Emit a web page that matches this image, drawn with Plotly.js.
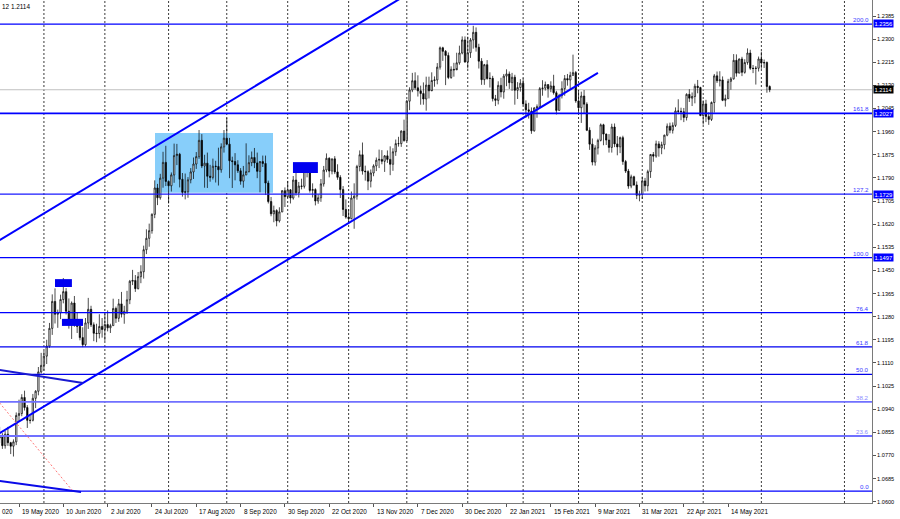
<!DOCTYPE html>
<html><head><meta charset="utf-8">
<script src="https://cdn.plot.ly/plotly-3.0.1.min.js"></script>
<style>html,body{margin:0;padding:0;background:#fff;}#chart{width:900px;height:519px;}</style>
</head><body><div id="chart"></div>
<script>
// ---------- DATA (EURUSD daily) ----------
const firstOpen = 1.0834;
const closeMay20 = [1.0839,1.0806,1.0848,1.0817,1.0804,1.0820,1.0917,1.0924,1.0983,1.0946,1.0899,1.0899,1.0980,1.1006,1.1077,1.1101];
const highMay20  = [1.0875,1.0852,1.0860,1.0875,1.0820,1.0829,1.0928,1.0975,1.0995,1.1008,1.0955,1.0916,1.0996,1.1010,1.1095,1.1147];
const lowMay20   = [1.0815,1.0794,1.0795,1.0805,1.0775,1.0766,1.0808,1.0896,1.0914,1.0935,1.0871,1.0887,1.0895,1.0944,1.0991,1.1071];
const closeJun20 = [1.1135,1.1172,1.1237,1.1336,1.1289,1.1294,1.1343,1.1372,1.1300,1.1255,1.1330,1.1263,1.1244,1.1203,1.1177,1.1257,1.1307,1.1250,1.1219,1.1218,1.1244,1.1233];
const highJun20  = [1.1154,1.1195,1.1257,1.1362,1.1384,1.1306,1.1361,1.1422,1.1385,1.1347,1.1336,1.1356,1.1296,1.1259,1.1241,1.1275,1.1349,1.1320,1.1259,1.1254,1.1289,1.1275];
const lowJun20   = [1.1082,1.1106,1.1165,1.1213,1.1255,1.1239,1.1271,1.1329,1.1288,1.1236,1.1198,1.1243,1.1220,1.1193,1.1168,1.1171,1.1235,1.1242,1.1190,1.1186,1.1200,1.1203];
const closeJul20 = [1.1251,1.1239,1.1247,1.1310,1.1274,1.1327,1.1289,1.1300,1.1342,1.1410,1.1413,1.1383,1.1427,1.1445,1.1526,1.1568,1.1596,1.1656,1.1753,1.1717,1.1789,1.1847,1.1777];
const highJul20  = [1.1292,1.1303,1.1254,1.1346,1.1317,1.1345,1.1371,1.1320,1.1375,1.1415,1.1452,1.1433,1.1444,1.1469,1.1541,1.1601,1.1622,1.1660,1.1781,1.1768,1.1805,1.1886,1.1908];
const lowJul20   = [1.1191,1.1226,1.1220,1.1246,1.1257,1.1261,1.1277,1.1254,1.1290,1.1326,1.1396,1.1371,1.1380,1.1403,1.1420,1.1510,1.1537,1.1585,1.1642,1.1690,1.1710,1.1754,1.1760];
const closeAug20 = [1.1761,1.1801,1.1872,1.1877,1.1785,1.1737,1.1739,1.1783,1.1812,1.1841,1.1868,1.1928,1.1834,1.1844,1.1796,1.1792,1.1833,1.1832,1.1820,1.1904,1.1936];
const highAug20  = [1.1781,1.1810,1.1916,1.1915,1.1882,1.1808,1.1806,1.1793,1.1826,1.1865,1.1885,1.1966,1.1951,1.1875,1.1883,1.1838,1.1861,1.1853,1.1901,1.1917,1.1966];
const lowAug20   = [1.1696,1.1740,1.1772,1.1837,1.1755,1.1721,1.1711,1.1717,1.1770,1.1786,1.1823,1.1860,1.1826,1.1754,1.1753,1.1776,1.1784,1.1773,1.1762,1.1809,1.1883];
const closeSep20 = [1.1914,1.1853,1.1850,1.1838,1.1816,1.1778,1.1801,1.1813,1.1846,1.1865,1.1845,1.1814,1.1850,1.1843,1.1771,1.1703,1.1658,1.1670,1.1632,1.1665,1.1743,1.1721];
const highSep20  = [1.2011,1.1937,1.1868,1.1881,1.1855,1.1826,1.1834,1.1917,1.1873,1.1887,1.1900,1.1883,1.1852,1.1872,1.1872,1.1780,1.1720,1.1688,1.1675,1.1682,1.1745,1.1755];
const lowSep20   = [1.1910,1.1789,1.1753,1.1781,1.1808,1.1765,1.1754,1.1800,1.1810,1.1833,1.1826,1.1789,1.1737,1.1830,1.1727,1.1696,1.1649,1.1627,1.1612,1.1626,1.1664,1.1683];
const closeOct20 = [1.1746,1.1716,1.1782,1.1735,1.1760,1.1759,1.1827,1.1814,1.1744,1.1747,1.1705,1.1717,1.1768,1.1819,1.1862,1.1815,1.1860,1.1812,1.1792,1.1747,1.1674,1.1646];
const highOct20  = [1.1779,1.1749,1.1797,1.1810,1.1775,1.1787,1.1832,1.1830,1.1823,1.1770,1.1752,1.1730,1.1786,1.1834,1.1880,1.1866,1.1861,1.1870,1.1840,1.1800,1.1760,1.1711];
const lowOct20   = [1.1716,1.1696,1.1710,1.1725,1.1718,1.1748,1.1751,1.1792,1.1736,1.1718,1.1689,1.1695,1.1702,1.1758,1.1811,1.1792,1.1803,1.1804,1.1783,1.1716,1.1650,1.1640];
const closeNov20 = [1.1640,1.1716,1.1723,1.1832,1.1875,1.1815,1.1813,1.1778,1.1808,1.1834,1.1855,1.1858,1.1851,1.1871,1.1858,1.1840,1.1886,1.1916,1.1916,1.1962,1.1927];
const highNov20  = [1.1675,1.1740,1.1770,1.1838,1.1891,1.1920,1.1835,1.1818,1.1821,1.1840,1.1865,1.1894,1.1892,1.1874,1.1891,1.1906,1.1899,1.1931,1.1941,1.1965,1.2004];
const lowNov20   = [1.1622,1.1638,1.1603,1.1710,1.1814,1.1802,1.1780,1.1745,1.1755,1.1796,1.1815,1.1826,1.1840,1.1812,1.1845,1.1800,1.1816,1.1871,1.1905,1.1904,1.1923];
const closeDec20 = [1.2072,1.2113,1.2147,1.2121,1.2110,1.2100,1.2080,1.2131,1.2110,1.2148,1.2150,1.2197,1.2268,1.2255,1.2240,1.2159,1.2189,1.2187,1.2213,1.2249,1.2297,1.2216];
const highDec20  = [1.2077,1.2123,1.2176,1.2178,1.2167,1.2129,1.2141,1.2162,1.2162,1.2178,1.2163,1.2212,1.2273,1.2272,1.2260,1.2251,1.2200,1.2213,1.2250,1.2276,1.2310,1.2310];
const lowDec20   = [1.1925,1.2039,1.2105,1.2114,1.2089,1.2059,1.2059,1.2037,1.2082,1.2114,1.2125,1.2134,1.2188,1.2220,1.2131,1.2153,1.2154,1.2162,1.2194,1.2206,1.2244,1.2213];
const closeJan21 = [1.2250,1.2297,1.2325,1.2270,1.2219,1.2151,1.2206,1.2155,1.2156,1.2081,1.2075,1.2130,1.2106,1.2164,1.2172,1.2140,1.2160,1.2112,1.2122,1.2138];
const highJan21  = [1.2309,1.2304,1.2349,1.2343,1.2283,1.2230,1.2209,1.2223,1.2178,1.2165,1.2095,1.2145,1.2158,1.2172,1.2189,1.2181,1.2176,1.2169,1.2142,1.2153];
const lowJan21   = [1.2192,1.2231,1.2265,1.2254,1.2192,1.2132,1.2132,1.2151,1.2122,1.2071,1.2054,1.2060,1.2086,1.2081,1.2127,1.2117,1.2110,1.2059,1.2080,1.2107];
const closeFeb21 = [1.2062,1.2040,1.2035,1.1963,1.2047,1.2051,1.2118,1.2120,1.2133,1.2118,1.2128,1.2103,1.2038,1.2092,1.2118,1.2155,1.2150,1.2167,1.2177,1.2073];
const highFeb21  = [1.2156,1.2075,1.2066,1.2049,1.2050,1.2060,1.2124,1.2149,1.2144,1.2133,1.2145,1.2169,1.2110,1.2099,1.2145,1.2168,1.2172,1.2180,1.2243,1.2183];
const lowFeb21   = [1.2057,1.2011,1.2008,1.1952,1.1960,1.2011,1.2048,1.2092,1.2111,1.2085,1.2105,1.2096,1.2023,1.2037,1.2082,1.2092,1.2129,1.2114,1.2165,1.2066];
const closeMar21 = [1.2048,1.2091,1.2061,1.1965,1.1914,1.1848,1.1900,1.1928,1.1985,1.1951,1.1929,1.1902,1.1977,1.1915,1.1904,1.1938,1.1850,1.1815,1.1760,1.1794,1.1764,1.1726,1.1729];
const highMar21  = [1.2113,1.2107,1.2113,1.2068,1.1976,1.1935,1.1910,1.1934,1.1990,1.1989,1.1953,1.1951,1.1989,1.1990,1.1944,1.1942,1.1945,1.1856,1.1823,1.1802,1.1798,1.1777,1.1743];
const lowMar21   = [1.2023,1.1992,1.2027,1.1962,1.1893,1.1836,1.1835,1.1876,1.1924,1.1910,1.1911,1.1883,1.1883,1.1903,1.1873,1.1881,1.1838,1.1808,1.1750,1.1752,1.1761,1.1712,1.1704];
const closeApr21 = [1.1779,1.1761,1.1813,1.1876,1.1870,1.1915,1.1900,1.1912,1.1947,1.1980,1.1965,1.1983,1.2036,1.2035,1.2033,1.2012,1.2097,1.2083,1.2089,1.2127,1.2122,1.2019];
const highApr21  = [1.1795,1.1790,1.1820,1.1878,1.1885,1.1927,1.1925,1.1923,1.1949,1.1990,1.1993,1.1994,1.2049,1.2079,1.2048,1.2047,1.2101,1.2116,1.2104,1.2136,1.2150,1.2125];
const lowApr21   = [1.1713,1.1740,1.1741,1.1790,1.1849,1.1864,1.1868,1.1877,1.1895,1.1943,1.1954,1.1953,1.1977,1.2024,1.2002,1.1995,1.2001,1.2069,1.2054,1.2064,1.2101,1.2017];
const closeMay21 = [1.2062,1.2016,1.2005,1.2067,1.2165,1.2147,1.2150,1.2075,1.2081,1.2145,1.2154,1.2222,1.2175,1.2227,1.2178,1.2214,1.2249,1.2193,1.2192,1.2193,1.2227];
const highMay21  = [1.2075,1.2077,1.2031,1.2071,1.2172,1.2181,1.2182,1.2163,1.2096,1.2154,1.2161,1.2245,1.2244,1.2229,1.2235,1.2226,1.2266,1.2261,1.2205,1.2201,1.2236];
const lowMay21   = [1.1986,1.1995,1.1985,1.1999,1.2030,1.2139,1.2126,1.2072,1.2052,1.2080,1.2114,1.2151,1.2162,1.2176,1.2164,1.2173,1.2206,1.2187,1.2175,1.2133,1.2181];
const closeJun21 = [1.2212,1.2214,1.2126,1.2114];
const highJun21  = [1.2254,1.2225,1.2218,1.2130];
const lowJun21   = [1.2191,1.2194,1.2103,1.2105];

// x-axis labels (bar index of each labelled day) and month separators
const tickIdx  = [7,23,39,55,71,87,103,119,135,151,167,183,199,215,231,247,263];
const tickText = ['19 May 2020','10 Jun 2020','2 Jul 2020','24 Jul 2020','17 Aug 2020','8 Sep 2020','30 Sep 2020','22 Oct 2020','13 Nov 2020','7 Dec 2020','30 Dec 2020','22 Jan 2021','15 Feb 2021','9 Mar 2021','31 Mar 2021','22 Apr 2021','14 May 2021'];
const leftEdgeLabel = '020';   // visible tail of the label cut by the left edge
const monthStartIdx = [16,38,61,82,104,126,147,169,189,209,232,254,275,305];
const yTicks = [1.2385,1.2300,1.2215,1.2130,1.2045,1.1960,1.1875,1.1790,1.1705,1.1620,1.1535,1.1450,1.1365,1.1280,1.1195,1.1110,1.1025,1.0940,1.0855,1.0770,1.0685,1.0600];

// Fibonacci object
const fibLow = 1.0639, fibHigh = 1.1497;
const fibLevels = [0,23.6,38.2,50,61.8,76.4,100,127.2,161.8,200];
const fibText   = ['0.0','23.6','38.2','50.0','61.8','76.4','100.0','127.2','161.8','200.0'];
const priceTags = [1.2356,1.2027,1.1729,1.1497];
const bidPrice = 1.2114;
const headerText = '12 1.2114';

// drawn objects (bar index, price)
const upperChannelX = [0,150],   upperChannelY = [1.1561,1.2482];
const lowerChannelX = [0,216],   lowerChannelY = [1.0852,1.2176];
const shortLineX = [0,30.1],     shortLineY = [1.1084,1.1036];
const bottomLineX = [0,29.4],    bottomLineY = [1.0676,1.0636];
const redLineX = [0,26.1],       redLineY = [1.0963,1.0643];
const rangeBoxX = [56.1,98.7],   rangeBoxY = [1.1735,1.1955];
const markBoxX0 = [20.0,22.5,105.9], markBoxX1 = [26.1,30.1,114.9];
const markBoxY0 = [1.1389,1.1246,1.1808], markBoxY1 = [1.1418,1.1272,1.1848];

// ---------- BUILD ----------
const close = [].concat(closeMay20,closeJun20,closeJul20,closeAug20,closeSep20,closeOct20,closeNov20,closeDec20,closeJan21,closeFeb21,closeMar21,closeApr21,closeMay21,closeJun21);
const high  = [].concat(highMay20,highJun20,highJul20,highAug20,highSep20,highOct20,highNov20,highDec20,highJan21,highFeb21,highMar21,highApr21,highMay21,highJun21);
const low   = [].concat(lowMay20,lowJun20,lowJul20,lowAug20,lowSep20,lowOct20,lowNov20,lowDec20,lowJan21,lowFeb21,lowMar21,lowApr21,lowMay21,lowJun21);
const open  = close.map((c,i)=> i===0 ? firstOpen : close[i-1]);
const barIdx = close.map((_,i)=>i);

const X0 = 0.14, X1 = 0.14 + 872/2.77;
const Y0 = 1.05952, Y1 = 1.24438;
const FONT = 'Liberation Sans, Arial, sans-serif';

const fibColors = ['#0000ff','#7070ff','#7070ff','#0000e8','#0000f0','#0000ff','#0000ff','#1a1aff','#0000ff','#0000ff'];
const fibWidths = [1.2,1.8,1.8,1.3,1.3,1.2,1.3,1.1,1.7,1.3];
const fibLabelColors = ['#3a3aff','#8a8aff','#8a8aff','#3a3aff','#3a3aff','#3a3aff','#3a3aff','#3a3aff','#3a3aff','#3a3aff'];

const shapes = [];
monthStartIdx.forEach(m => shapes.push({type:'line', xref:'x', yref:'paper', x0:m, x1:m, y0:0, y1:1, layer:'below',
  line:{color:'#3a3a3a', width:1, dash:'2px,2px'}}));
shapes.push({type:'rect', xref:'x', yref:'y', x0:rangeBoxX[0], x1:rangeBoxX[1], y0:rangeBoxY[0], y1:rangeBoxY[1],
  fillcolor:'#87cefa', line:{width:0}, layer:'below'});
shapes.push({type:'line', xref:'paper', yref:'y', x0:0, x1:1, y0:bidPrice, y1:bidPrice, layer:'below', line:{color:'#c0c0c0', width:1}});
const fibPrice = fibLevels.map(l => fibLow + (fibHigh - fibLow) * l / 100);
fibPrice.forEach((p,k) => shapes.push({type:'line', xref:'paper', yref:'y', x0:0, x1:1, y0:p, y1:p, layer:'above',
  line:{color:fibColors[k], width:fibWidths[k]}}));
const seg = (xs, ys, color, width, dash) => ({type:'line', xref:'x', yref:'y', x0:xs[0], x1:xs[1], y0:ys[0], y1:ys[1], layer:'above', line:{color, width, dash:dash||'solid'}});
shapes.push(seg(upperChannelX, upperChannelY, '#0000ff', 2));
shapes.push(seg(lowerChannelX, lowerChannelY, '#0000ff', 2));
shapes.push(seg(shortLineX, shortLineY, '#1a1ad0', 2));
shapes.push(seg(bottomLineX, bottomLineY, '#0a0ae8', 2));
shapes.push(seg(redLineX, redLineY, '#ff7a7a', 1, '2px,2px'));
markBoxX0.forEach((x,k) => shapes.push({type:'rect', xref:'x', yref:'y', x0:x, x1:markBoxX1[k], y0:markBoxY0[k], y1:markBoxY1[k],
  fillcolor:'#0000f0', line:{width:0}, layer:'above'}));

const annotations = [];
tickIdx.forEach((t,k) => annotations.push({xref:'paper', yref:'paper', x:(t - X0)/(X1 - X0), y:0, xanchor:'left', yanchor:'top',
  xshift:1, yshift:-3, showarrow:false, text:tickText[k], font:{family:FONT, size:6.4, color:'#000'}}));
annotations.push({xref:'paper', yref:'paper', x:0, y:0, xanchor:'left', yanchor:'top', xshift:0, yshift:-3, showarrow:false,
  text:leftEdgeLabel, font:{family:FONT, size:6.4, color:'#000'}});
fibPrice.forEach((p,k) => annotations.push({xref:'paper', yref:'y', x:1, y:p, xanchor:'right', yanchor:'bottom', xshift:-1, yshift:-1,
  showarrow:false, text:fibText[k], font:{family:FONT, size:6.2, color:fibLabelColors[k]}}));
priceTags.forEach(p => annotations.push({xref:'paper', yref:'y', x:1, y:p, xanchor:'left', yanchor:'middle', xshift:1,
  showarrow:false, text:p.toFixed(4), bgcolor:'#0000ff', borderpad:0.5, font:{family:FONT, size:5.8, color:'#fff'}}));
annotations.push({xref:'paper', yref:'y', x:1, y:bidPrice, xanchor:'left', yanchor:'middle', xshift:1,
  showarrow:false, text:bidPrice.toFixed(4), bgcolor:'#000', borderpad:0.5, font:{family:FONT, size:5.8, color:'#fff'}});
annotations.push({xref:'paper', yref:'paper', x:0, y:1, xanchor:'left', yanchor:'top', yshift:-1, showarrow:false,
  text:headerText, font:{family:FONT, size:6.4, color:'#000'}});

const trace = {type:'candlestick', x:barIdx, open:open, high:high, low:low, close:close,
  increasing:{line:{color:'#000', width:0.7}, fillcolor:'#ffffff'},
  decreasing:{line:{color:'#000', width:0.7}, fillcolor:'#000000'},
  whiskerwidth:0, hoverinfo:'skip', showlegend:false};

const layout = {
  width:900, height:519, margin:{l:0, r:28, t:0, b:16},
  paper_bgcolor:'#ffffff', plot_bgcolor:'#ffffff', showlegend:false,
  xaxis:{range:[X0,X1], showgrid:false, zeroline:false, showline:true, linecolor:'#7a7a7a', linewidth:1,
    ticks:'outside', ticklen:3, tickcolor:'#555', tickvals:tickIdx, showticklabels:false,
    rangeslider:{visible:false}, fixedrange:true},
  yaxis:{side:'right', range:[Y0,Y1], showgrid:false, zeroline:false, showline:true, linecolor:'#7a7a7a', linewidth:1,
    ticks:'outside', ticklen:3, tickcolor:'#555', tickvals:yTicks, ticktext:yTicks.map(v=>v.toFixed(4)),
    tickfont:{family:FONT, size:5.6, color:'#000'}, fixedrange:true},
  shapes:shapes, annotations:annotations
};
Plotly.newPlot('chart', [trace], layout, {staticPlot:true, displayModeBar:false});
</script>
</body></html>
